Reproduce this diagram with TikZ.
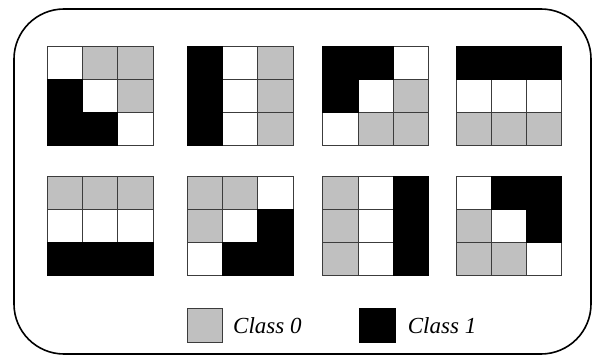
\documentclass[tikz,border=0pt]{standalone}
\usepackage{fontspec}
\setmainfont{Liberation Serif}
\definecolor{cgray}{RGB}{192,192,192}
\definecolor{cline}{RGB}{60,60,60}
\tikzset{
  cell/.style={draw=cline, line width=0.8pt},
  frame/.style={draw=black, line width=1.6pt, rounded corners=50pt},
  legtext/.style={anchor=base west, inner sep=0pt, font=\fontsize{23}{25}\selectfont\itshape},
}
\newcommand{\mygrid}[3]{%
  \foreach \c [count=\i from 0] in {#3} {
    \pgfmathtruncatemacro{\r}{int(\i/3)}
    \pgfmathtruncatemacro{\q}{mod(\i,3)}
    \ifx\c\blk\else
      \filldraw[cell, fill=\c] ({#1+\q*35.2},{#2+\r*33}) rectangle ++(35.2,33);
    \fi
  }
  \foreach \c [count=\i from 0] in {#3} {
    \pgfmathtruncatemacro{\r}{int(\i/3)}
    \pgfmathtruncatemacro{\q}{mod(\i,3)}
    \ifx\c\blk
      \filldraw[line width=0.8pt, draw=black, fill=black] ({#1+\q*35.2},{#2+\r*33}) rectangle ++(35.2,33);
    \fi
  }
}
\def\blk{black}
\begin{document}
\begin{tikzpicture}[x=1pt,y=-1pt]
\useasboundingbox (0,0) rectangle (595,356);
\draw[frame] (14,9) rectangle (591,354);
% row 1
\mygrid{47.3}{46.7}{white,cgray,cgray,black,white,cgray,black,black,white}
\mygrid{187.3}{46.7}{black,white,cgray,black,white,cgray,black,white,cgray}
\mygrid{322.7}{46.7}{black,black,white,black,white,cgray,white,cgray,cgray}
\mygrid{456}{46.7}{black,black,black,white,white,white,cgray,cgray,cgray}
% row 2
\mygrid{47.3}{176.7}{cgray,cgray,cgray,white,white,white,black,black,black}
\mygrid{187.3}{176.7}{cgray,cgray,white,cgray,white,black,white,black,black}
\mygrid{322.7}{176.7}{cgray,white,black,cgray,white,black,cgray,white,black}
\mygrid{456}{176.7}{white,black,black,cgray,white,black,cgray,cgray,white}
% legend
\filldraw[fill=cgray, cell] (187.3,308.7) rectangle (222.7,342.3);
\node[legtext] (c0) at (233,333) {Class 0};
\filldraw[fill=black, draw=black, line width=0.8pt] (359.3,308.7) rectangle (395,342.3);
\node[legtext] (c1) at (407.7,333) {Class 1};
\end{tikzpicture}
\end{document}
